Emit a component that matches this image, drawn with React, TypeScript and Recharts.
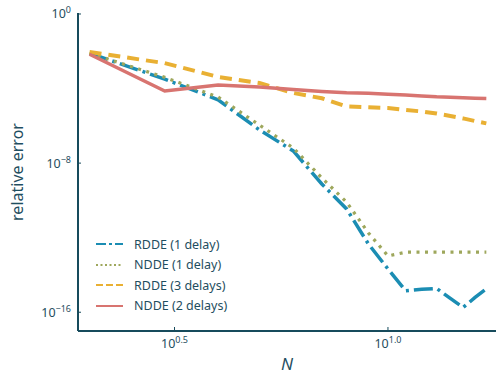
import React from 'react';
import { LineChart, Line, XAxis, YAxis, Legend } from 'recharts';

// N values (x) and relative errors (y)
const nValues = [2, 3, 4, 5, 6, 7, 8, 9, 10, 11, 12, 13, 14, 15, 16, 17];

const rddeOneDelay = [
  7.9e-3, 3.2e-4, 2.5e-5, 6.0e-7, 4.5e-8, 7.6e-10, 3.5e-11, 4.6e-13,
  2.1e-14, 1.4e-15, 1.7e-15, 1.9e-15, 5.5e-16, 1.8e-16, 6.2e-16, 1.8e-15,
];
const nddeOneDelay = [
  7.9e-3, 4.0e-4, 3.5e-5, 1.1e-6, 6.5e-8, 1.6e-9, 8.1e-11, 1.8e-12,
  1.05e-13, 1.66e-13, 1.66e-13, 1.66e-13, 1.66e-13, 1.66e-13, 1.66e-13, 1.66e-13,
];
const rddeThreeDelays = [
  9.1e-3, 2.3e-3, 4.2e-4, 2.0e-4, 5.8e-5, 3.0e-5, 1.1e-5, 1.0e-5,
  9.1e-6, 7.1e-6, 5.9e-6, 4.6e-6, 3.4e-6, 2.5e-6, 1.8e-6, 1.35e-6,
];
const nddeTwoDelays = [
  6.9e-3, 7.4e-5, 1.55e-4, 1.2e-4, 8.9e-5, 6.9e-5, 5.9e-5, 5.6e-5,
  5.0e-5, 4.5e-5, 4.0e-5, 3.6e-5, 3.4e-5, 3.2e-5, 3.0e-5, 2.9e-5,
];

const xTicks = [Math.pow(10, 0.5), 10];
const xTickExponents = ['0.5', '1.0'];
const yTicks = [1, 1e-8, 1e-16];
const yTickExponents = ['0', '\u22128', '\u221216'];

const AXIS = '#174b5c';
const TEXT = '#1f4e60';

const series = [
  { key: 'rdde1', name: 'RDDE (1 delay)', color: '#1b8db3', dash: '19 5 3 5', width: 3.5, legendDash: '10 3 3 3' },
  { key: 'ndde1', name: 'NDDE (1 delay)', color: '#9ea75c', dash: '3 5.5', width: 3.2, legendDash: '2 2.5' },
  { key: 'rdde3', name: 'RDDE (3 delays)', color: '#e9b033', dash: '12 7', width: 4, legendDash: '7 3' },
  { key: 'ndde2', name: 'NDDE (2 delays)', color: '#d87470', dash: undefined, width: 3.5, legendDash: undefined },
];

const data = nValues.map((n, i) => ({
  n,
  rdde1: rddeOneDelay[i],
  ndde1: nddeOneDelay[i],
  rdde3: rddeThreeDelays[i],
  ndde2: nddeTwoDelays[i],
}));

const XTick = (props: any) => {
  const { x, y, payload } = props;
  const idx = xTicks.indexOf(payload.value);
  return (
    <g>
      <line x1={x} x2={x} y1={y - 4} y2={y} stroke={AXIS} strokeWidth={1} />
      <text x={x} y={y + 17} textAnchor="middle" fill={TEXT} fontSize={12.5}>
        10
        <tspan dy={-5} fontSize={9}>{xTickExponents[idx]}</tspan>
      </text>
    </g>
  );
};

const YTick = (props: any) => {
  const { x, y, payload } = props;
  const idx = yTicks.indexOf(payload.value);
  return (
    <g>
      <line x1={x} x2={x + 3} y1={y} y2={y} stroke={AXIS} strokeWidth={1} />
      <text x={x - 7} y={y + 4.5} textAnchor="end" fill={TEXT} fontSize={12.5}>
        10
        <tspan dy={-5} fontSize={9}>{yTickExponents[idx]}</tspan>
      </text>
    </g>
  );
};

const YLabel = (props: any) => {
  const { viewBox } = props;
  const cx = viewBox.x + 17;
  const cy = viewBox.y + viewBox.height / 2;
  return (
    <text x={cx} y={cy} transform={`rotate(-90, ${cx}, ${cy})`} textAnchor="middle"
      dominantBaseline="central" fill={TEXT} fontSize={16}>
      relative error
    </text>
  );
};

const XLabel = (props: any) => {
  const { viewBox } = props;
  return (
    <text x={viewBox.x + viewBox.width / 2} y={viewBox.y + 39} textAnchor="middle"
      fill={TEXT} fontSize={17} fontStyle="italic">
      N
    </text>
  );
};

const LegendBox = () => (
  <div style={{ display: 'flex', flexDirection: 'column' }}>
    {series.map((s) => (
      <div key={s.key} style={{ display: 'flex', alignItems: 'center', height: 20.5 }}>
        <svg width={27} height={6}>
          <line x1={0} x2={27} y1={3} y2={3} stroke={s.color} strokeWidth={2}
            strokeDasharray={s.legendDash} />
        </svg>
        <span style={{ marginLeft: 11, fontSize: 12.5, color: TEXT, whiteSpace: 'nowrap' }}>{s.name}</span>
      </div>
    ))}
  </div>
);

export default function App() {
  return (
    <div style={{ position: 'absolute', left: 0, top: 0, width: 496, height: 374, background: '#fff', fontFamily: '"Noto Sans", sans-serif' }}>
      <LineChart width={496} height={374} data={data} margin={{ top: 13, right: 0, bottom: 0, left: 0 }}
        style={{ fontFamily: '"Noto Sans", sans-serif' }}>
        <XAxis
          dataKey="n"
          type="number"
          scale="log"
          domain={[1.879, 17.91]}
          allowDataOverflow
          ticks={xTicks}
          interval={0}
          height={43}
          axisLine={{ stroke: AXIS, strokeWidth: 2 }}
          tickLine={false}
          tickSize={0}
          tickMargin={0}
          tick={<XTick />}
          label={<XLabel />}
        />
        <YAxis
          type="number"
          scale="log"
          domain={[9.85e-18, 1.13]}
          allowDataOverflow
          ticks={yTicks}
          interval={0}
          width={78}
          axisLine={{ stroke: AXIS, strokeWidth: 2 }}
          tickLine={false}
          tickSize={0}
          tickMargin={0}
          tick={<YTick />}
          label={<YLabel />}
        />
        <Legend
          layout="horizontal"
          verticalAlign="middle"
          align="center"
          content={<LegendBox />}
          wrapperStyle={{ left: 96, top: 234, width: 200, height: 'auto' }}
        />
        {series.map((s) => (
          <Line
            key={s.key}
            dataKey={s.key}
            name={s.name}
            type="linear"
            stroke={s.color}
            strokeWidth={s.width}
            strokeDasharray={s.dash}
            strokeLinecap="butt"
            dot={false}
            activeDot={false}
            isAnimationActive={false}
          />
        ))}
      </LineChart>
    </div>
  );
}
